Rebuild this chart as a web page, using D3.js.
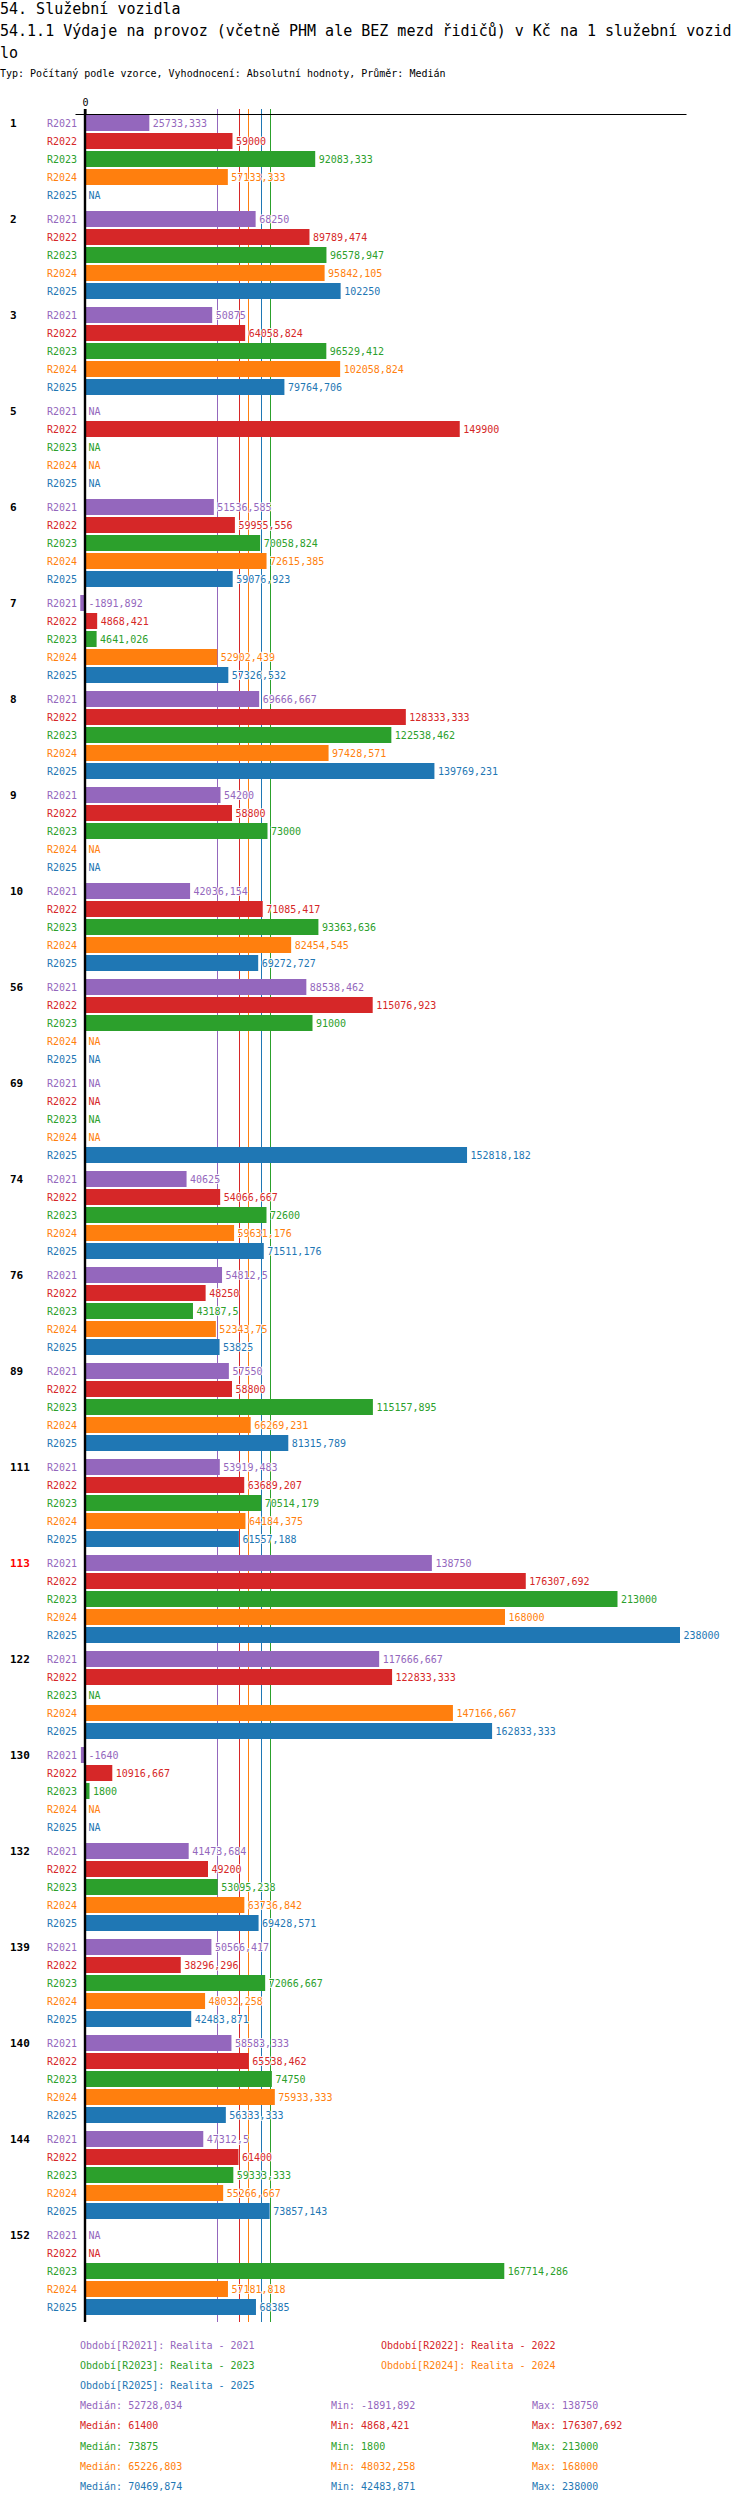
<!DOCTYPE html>
<html>
<head>
<meta charset="utf-8">
<script src="https://cdn.jsdelivr.net/npm/d3@7"></script>
<style>
  body { margin: 0; background: #fff; }
  svg { display: block; }
  text { font-family: "DejaVu Sans Mono", "Liberation Mono", monospace; }
</style>
</head>
<body>
<div id="chart"></div>
<script>
// ---------- data ----------
const titleLines = ["54. Služební vozidla",
  "54.1.1 Výdaje na provoz (včetně PHM ale BEZ mezd řidičů) v Kč na 1 služební vozid",
  "lo"];
const subtitle = "Typ: Počítaný podle vzorce, Vyhodnocení: Absolutní hodnoty, Průměr: Medián";

const groups = ["1","2","3","5","6","7","8","9","10","56","69","74","76","89","111","113","122","130","132","139","140","144","152"];
const highlightGroup = "113";
const series = ["R2021","R2022","R2023","R2024","R2025"];
const seriesNames = ["Realita - 2021","Realita - 2022","Realita - 2023","Realita - 2024","Realita - 2025"];
const colors = ["#9467bd","#d62728","#2ca02c","#ff7f0e","#1f77b4"];

const r2021 = [25733.333, 68250, 50875, null, 51536.585, -1891.892, 69666.667, 54200, 42036.154, 88538.462, null, 40625, 54812.5, 57550, 53919.483, 138750, 117666.667, -1640, 41473.684, 50566.417, 58583.333, 47312.5, null];
const r2022 = [59000, 89789.474, 64058.824, 149900, 59955.556, 4868.421, 128333.333, 58800, 71085.417, 115076.923, null, 54066.667, 48250, 58800, 63689.207, 176307.692, 122833.333, 10916.667, 49200, 38296.296, 65538.462, 61400, null];
const r2023 = [92083.333, 96578.947, 96529.412, null, 70058.824, 4641.026, 122538.462, 73000, 93363.636, 91000, null, 72600, 43187.5, 115157.895, 70514.179, 213000, null, 1800, 53095.238, 72066.667, 74750, 59333.333, 167714.286];
const r2024 = [57133.333, 95842.105, 102058.824, null, 72615.385, 52902.439, 97428.571, null, 82454.545, null, null, 59631.176, 52343.75, 66269.231, 64184.375, 168000, 147166.667, null, 63736.842, 48032.258, 75933.333, 55266.667, 57181.818];
const r2025 = [null, 102250, 79764.706, null, 59076.923, 57326.532, 139769.231, null, 69272.727, null, 152818.182, 71511.176, 53825, 81315.789, 61557.188, 238000, 162833.333, null, 69428.571, 42483.871, 56333.333, 73857.143, 68385];

const medians = [52728.034, 61400, 73875, 65226.803, 70469.874];
const mins = [-1891.892, 4868.421, 1800, 48032.258, 42483.871];
const maxs = [138750, 176307.692, 213000, 168000, 238000];
const xTicks = [0];

// ---------- build ----------
const seriesValues = [r2021, r2022, r2023, r2024, r2025];
const rows = [];
groups.forEach((g, gi) => {
  series.forEach((s, si) => {
    rows.push({group: g, series: s, si: si, value: seriesValues[si][gi]});
  });
});

const W = 750, H = 2502;
const svg = d3.select("#chart").append("svg")
  .attr("width", W).attr("height", H)
  .attr("viewBox", `0 0 ${W} ${H}`);
svg.append("rect").attr("width", W).attr("height", H).attr("fill", "#fff");

const fmt = v => (Math.round(v * 1000) / 1000).toString().replace(".", ",");

// titles
const tt = svg.append("text").attr("x", 0).attr("font-size", 15).attr("fill", "#000");
titleLines.forEach((t, i) => {
  tt.append("tspan").attr("x", 0).attr("y", 13.5 + i * 22).text(t);
});
svg.append("text").attr("x", 0).attr("y", 76.5).attr("font-size", 10)
  .attr("fill", "#000").text(subtitle);

// scales
const topY = 114;
const x = d3.scaleLinear().domain([-4000, 240400]).range([75, 686]);
const yGroup = d3.scaleBand().domain(groups).range([topY, topY + groups.length * 96]);
const yRow = d3.scaleBand().domain(series).range([0, 90])
  .paddingInner(2 / 18).paddingOuter(1 / 18);
const rowCenter = d => yGroup(d.group) + yRow(d.series) + yRow.bandwidth() / 2;

const lineTop = topY - 5;
const lineBottom = yGroup(groups[groups.length - 1]) + 90 + 6;

// median lines
svg.append("g").selectAll("line").data(medians).join("line")
  .attr("x1", d => Math.round(x(d)) + 0.5).attr("x2", d => Math.round(x(d)) + 0.5)
  .attr("y1", lineTop).attr("y2", lineBottom)
  .attr("stroke", (d, i) => colors[i]).attr("stroke-width", 1);

// bars
svg.append("g").selectAll("rect").data(rows.filter(d => d.value != null)).join("rect")
  .attr("x", d => Math.min(x(0), x(d.value)))
  .attr("width", d => Math.abs(x(d.value) - x(0)))
  .attr("y", d => yGroup(d.group) + yRow(d.series))
  .attr("height", yRow.bandwidth())
  .attr("fill", d => colors[d.si]);

// axis
const axis = svg.append("g").attr("transform", `translate(0,${topY})`)
  .call(d3.axisTop(x).tickValues(xTicks).tickSize(5).tickSizeOuter(0).tickFormat(d3.format("d")));
axis.select(".domain").attr("stroke", "#000").attr("stroke-width", 1.2);
axis.selectAll(".tick line").attr("stroke", "#000").attr("stroke-width", 2);
axis.selectAll(".tick text").attr("font-size", 10)
  .attr("font-family", "'DejaVu Sans Mono', monospace").attr("fill", "#000");

// zero line
svg.append("line").attr("x1", x(0)).attr("x2", x(0))
  .attr("y1", lineTop).attr("y2", lineBottom)
  .attr("stroke", "#000").attr("stroke-width", 2.4);

// value labels
svg.append("g").selectAll("text").data(rows).join("text")
  .attr("x", d => (d.value == null || d.value < 0 ? x(0) : x(d.value)) + 3.5)
  .attr("y", rowCenter).attr("dy", "0.35em")
  .attr("font-size", 10)
  .attr("fill", d => colors[d.si])
  .attr("stroke", "#fff").attr("stroke-width", 1.5).attr("paint-order", "stroke")
  .text(d => d.value == null ? "NA" : fmt(d.value));

// row labels
svg.append("g").selectAll("text").data(rows).join("text")
  .attr("x", 77).attr("y", rowCenter).attr("dy", "0.35em")
  .attr("text-anchor", "end").attr("font-size", 10)
  .attr("fill", d => colors[d.si])
  .text(d => d.series);

// group labels
svg.append("g").selectAll("text").data(groups).join("text")
  .attr("x", 10).attr("y", d => yGroup(d) + yRow(series[0]) + yRow.bandwidth() / 2)
  .attr("dy", "0.35em").attr("font-size", 11).attr("font-weight", "bold")
  .attr("fill", d => d === highlightGroup ? "#ff0000" : "#000")
  .text(d => d);

// legend: periods
const legTop = 2345, legStep = 20.2;
const legCols = [80, 381];
svg.append("g").selectAll("text").data(series).join("text")
  .attr("x", (d, i) => legCols[i % 2])
  .attr("y", (d, i) => legTop + Math.floor(i / 2) * legStep)
  .attr("dy", "0.35em").attr("font-size", 10)
  .attr("fill", (d, i) => colors[i])
  .text((d, i) => `Období[${d}]: ${seriesNames[i]}`);

// legend: stats
const statTop = legTop + 3 * legStep;
const stats = svg.append("g");
series.forEach((s, i) => {
  const y = statTop + i * legStep;
  [[80, "Medián: " + fmt(medians[i])], [331, "Min: " + fmt(mins[i])], [532, "Max: " + fmt(maxs[i])]]
    .forEach(([xx, t]) => {
      stats.append("text").attr("x", xx).attr("y", y).attr("dy", "0.35em")
        .attr("font-size", 10).attr("fill", colors[i]).text(t);
    });
});
</script>
</body>
</html>
